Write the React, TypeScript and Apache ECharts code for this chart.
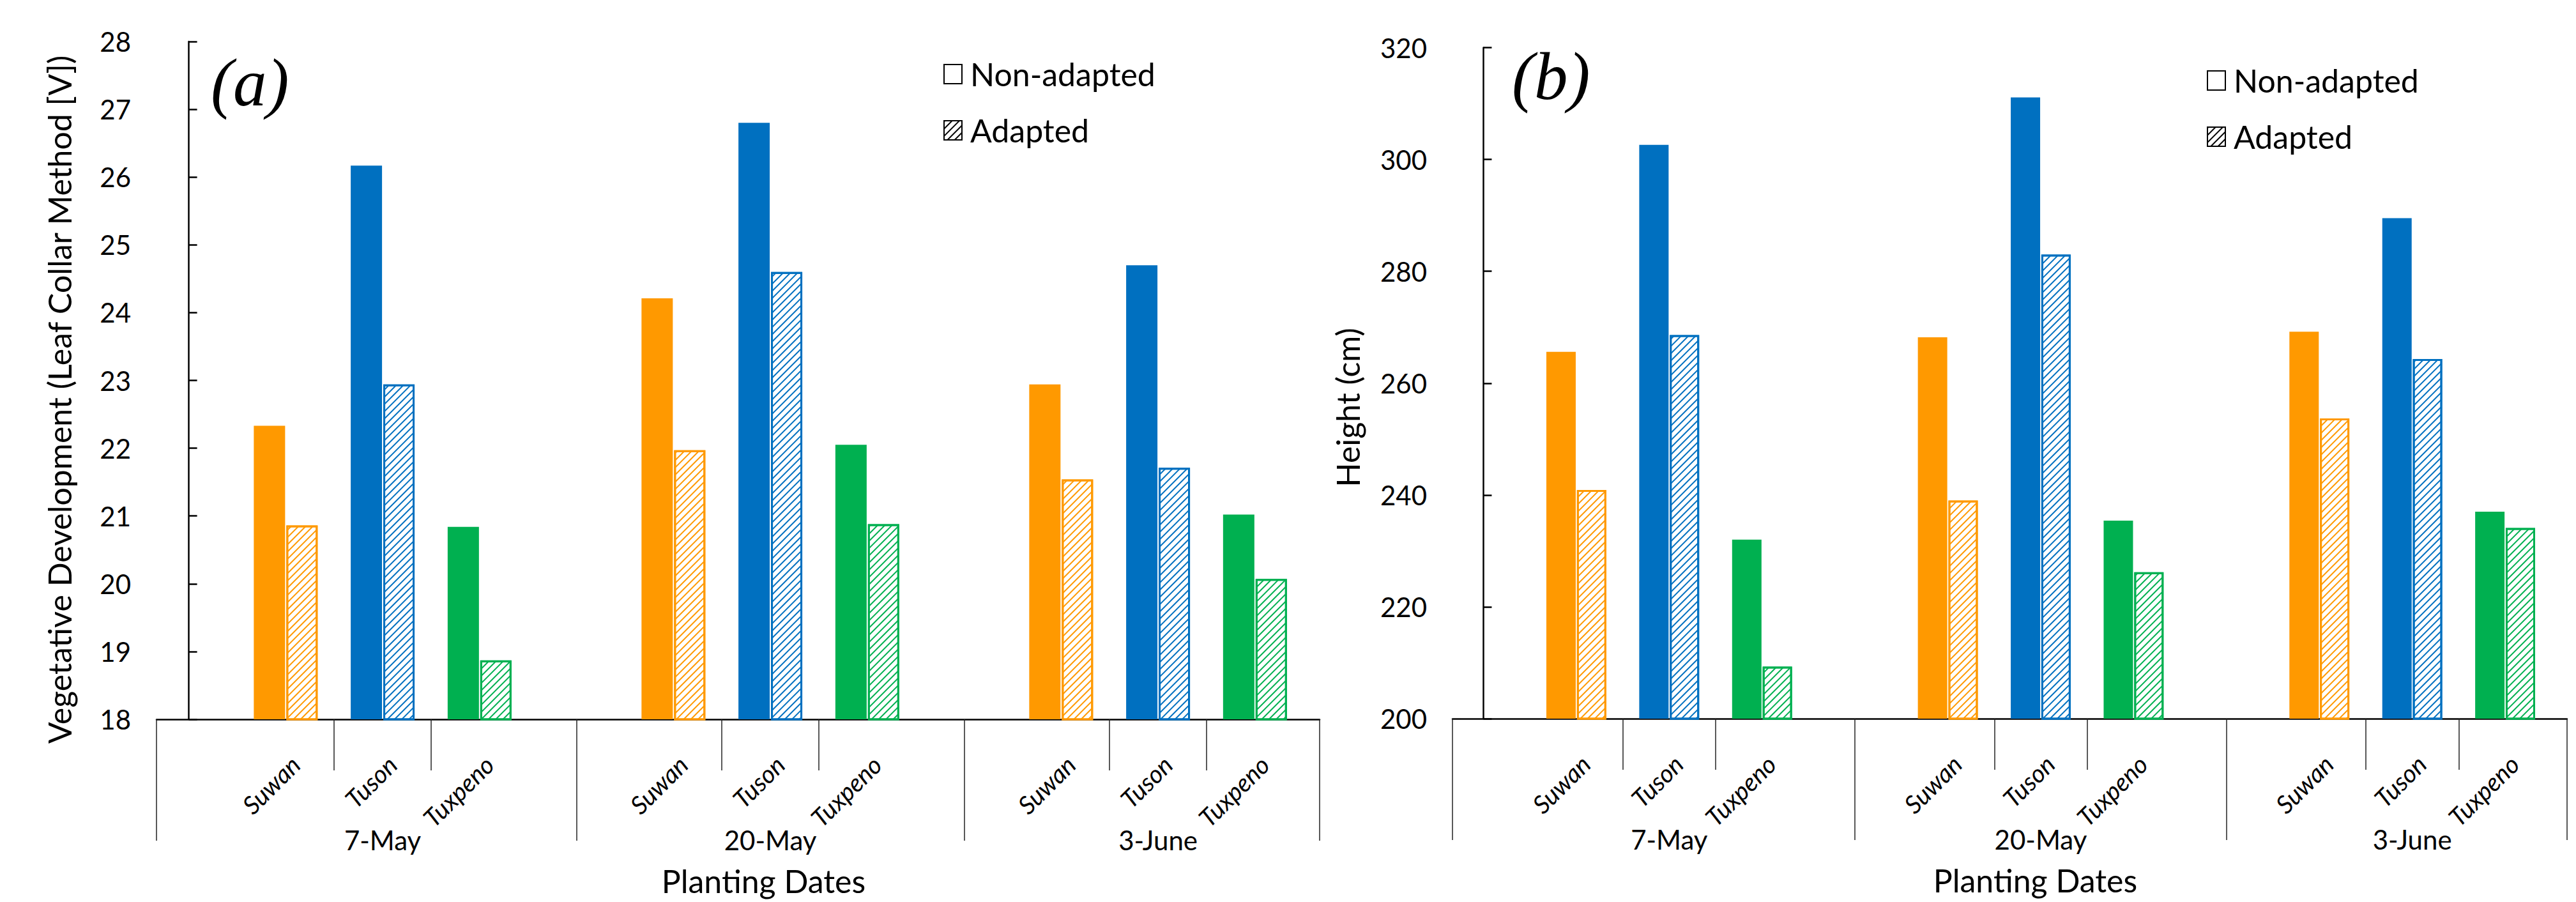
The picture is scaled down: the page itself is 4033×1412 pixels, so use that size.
import React, { useEffect, useRef } from 'react';
import * as echarts from 'echarts';

// ---- data ----
const varieties = ['Suwan', 'Tuson', 'Tuxpeno'];
const plantingDates = ['7-May', '20-May', '3-June'];
const varietyColors = ['#FF9900', '#0070C0', '#00B050'];

// order: 7-May [Suwan, Tuson, Tuxpeno], 20-May [...], 3-June [...]
const vegNonAdapted = [22.33, 26.17, 20.84, 24.21, 26.8, 22.05, 22.94, 24.7, 21.02];
const vegAdapted = [20.86, 22.94, 18.87, 21.97, 24.6, 20.88, 21.54, 21.71, 20.07];
const heightNonAdapted = [265.6, 302.6, 232.0, 268.2, 311.1, 235.4, 269.2, 289.5, 237.0];
const heightAdapted = [240.9, 268.6, 209.3, 239.0, 283.0, 226.2, 253.7, 264.3, 234.1];

const legendNames = ['Non-adapted', 'Adapted'];

// ---- layout on the x scale (one slot per variety, one blank slot between dates) ----
const X_MIN = -1 / 3;
const X_MAX = 11 + 2 / 3;
const positions: number[] = [];
plantingDates.forEach((_, g) => varieties.forEach((__, v) => positions.push(g * 4 + v + 1)));
const subSeps: number[] = [];
plantingDates.forEach((_, g) => [1.5, 2.5].forEach((o) => subSeps.push(g * 4 + o)));
const groupSeps = [X_MIN, 4, 8, X_MAX];
const groupCenters = plantingDates.map((_, g) => g * 4 + 2);
const LABEL_SHIFT = 0.1;
const LABEL_MARGIN = 64;

const FONT = 'Lato';

const hatch = (c: string) => ({
  symbol: 'rect',
  symbolSize: 1,
  dashArrayX: [1, 0],
  dashArrayY: [2, 6],
  rotation: -Math.PI / 4,
  color: c,
  backgroundColor: '#ffffff',
});

function makeXAxes(gridIndex: number) {
  const tickLine = { color: '#222', width: 1.5 };
  return [
    {
      type: 'value',
      gridIndex,
      position: 'bottom',
      min: X_MIN,
      max: X_MAX,
      splitLine: { show: false },
      axisLine: { show: true, onZero: false, lineStyle: { color: '#000', width: 2.5 } },
      axisTick: { show: true, customValues: subSeps, length: 80, lineStyle: tickLine },
      axisLabel: { show: false },
    },
    {
      type: 'value',
      gridIndex,
      position: 'bottom',
      min: X_MIN,
      max: X_MAX,
      splitLine: { show: false },
      axisLine: { show: false },
      axisTick: { show: true, customValues: groupSeps, length: 190, lineStyle: tickLine },
      axisLabel: {
        show: true,
        customValues: groupCenters,
        formatter: (val: number) => {
          const i = groupCenters.findIndex((c) => Math.abs(c - val) < 1e-6);
          return i >= 0 ? plantingDates[i] : '';
        },
        margin: 168,
        fontFamily: FONT,
        fontSize: 42,
        color: '#000',
      },
      name: 'Planting Dates',
      nameLocation: 'middle',
      nameGap: 228,
      nameTextStyle: { fontFamily: FONT, fontSize: 50, color: '#000', padding: [0, 0, 0, 80] },
    },
  ];
}

function makeYAxis(gridIndex: number, min: number, max: number, interval: number, name: string, shift: number) {
  return {
    type: 'value',
    gridIndex,
    min,
    max,
    interval,
    splitLine: { show: false },
    axisLine: { show: true, lineStyle: { color: '#000', width: 2.5 } },
    axisTick: { show: true, inside: true, length: 13, lineStyle: { color: '#000', width: 2.5 } },
    axisLabel: { fontFamily: FONT, fontSize: 42, color: '#000', margin: 40 },
    name,
    nameLocation: 'middle',
    nameRotate: 90,
    nameGap: gridIndex === 0 ? 127 : 139,
    nameTextStyle: { fontFamily: FONT, fontSize: 50, color: '#000', padding: [0, shift, 0, 0] },
  };
}

function makeSeries(gridIndex: number, nonAdapted: number[], adapted: number[], barWidth: number) {
  const xAxisIndex = gridIndex * 2;
  return [
    {
      type: 'bar',
      name: legendNames[0],
      xAxisIndex,
      yAxisIndex: gridIndex,
      barWidth,
      barGap: '4%',
      data: nonAdapted.map((v, i) => ({
        value: [positions[i], v],
        itemStyle: { color: varietyColors[i % 3] },
      })),
    },
    {
      type: 'bar',
      name: legendNames[1],
      xAxisIndex,
      yAxisIndex: gridIndex,
      barWidth,
      barGap: '4%',
      data: adapted.map((v, i) => ({
        value: [positions[i], v],
        itemStyle: {
          color: '#ffffff',
          borderColor: varietyColors[i % 3],
          borderWidth: 3,
          decal: hatch(varietyColors[i % 3]),
        },
      })),
    },
  ];
}

function makeLegend(left: number, top: number) {
  return {
    left,
    top,
    orient: 'vertical',
    itemWidth: 28,
    itemHeight: 30,
    itemGap: 38,
    selectedMode: false,
    textStyle: { fontFamily: FONT, fontSize: 50, color: '#000', padding: [0, 0, 0, 8] },
    data: [
      { name: legendNames[0], icon: 'rect', itemStyle: { color: '#ffffff', borderColor: '#000', borderWidth: 2 } },
      {
        name: legendNames[1],
        icon: 'rect',
        itemStyle: { color: '#ffffff', borderColor: '#000', borderWidth: 2, decal: hatch('#000') },
      },
    ],
  };
}

export default function App() {
  const ref = useRef<HTMLDivElement>(null);
  useEffect(() => {
    if (!ref.current) return;
    const chart = echarts.init(ref.current, null, { renderer: 'svg' });
    const yMins = [18, 200];
    const option = {
      animation: false,
      backgroundColor: '#ffffff',
      title: [
        {
          text: '(a)',
          left: 325,
          top: 72,
          textStyle: { fontFamily: 'Liberation Serif', fontStyle: 'italic', fontWeight: 'normal', fontSize: 105, color: '#000' },
        },
        {
          text: '(b)',
          left: 2362,
          top: 62,
          textStyle: { fontFamily: 'Liberation Serif', fontStyle: 'italic', fontWeight: 'normal', fontSize: 105, color: '#000' },
        },
      ],
      legend: [makeLegend(1472, 86), makeLegend(3450, 96)],
      grid: [
        { left: 245, top: 65, width: 1821, height: 1061, containLabel: false },
        { left: 2274, top: 74.5, width: 1745, height: 1050.5, containLabel: false },
      ],
      xAxis: [...makeXAxes(0), ...makeXAxes(1)],
      yAxis: [
        makeYAxis(0, 18, 28, 1, 'Vegetative Development (Leaf Collar Method [V])', 60),
        makeYAxis(1, 200, 320, 20, 'Height (cm)', 76),
      ],
      series: [
        ...makeSeries(0, vegNonAdapted, vegAdapted, 49),
        ...makeSeries(1, heightNonAdapted, heightAdapted, 46),
      ],
    };
    chart.setOption(option as any);

    // rotated variety labels, placed through the chart's own scales
    const graphics: any[] = [];
    [0, 1].forEach((k) => {
      positions.forEach((p, i) => {
        const pt = chart.convertToPixel({ xAxisIndex: k * 2, yAxisIndex: k } as any, [p + LABEL_SHIFT, yMins[k]]) as number[];
        if (!pt) return;
        graphics.push({
          type: 'text',
          x: pt[0],
          y: pt[1] + LABEL_MARGIN,
          rotation: Math.PI / 4,
          style: {
            text: varieties[i % 3],
            fontFamily: FONT,
            fontStyle: 'italic',
            fontSize: 39,
            fill: '#000',
            align: 'right',
            verticalAlign: 'middle',
          },
        });
      });
    });
    chart.setOption({ graphic: graphics } as any);
    return () => chart.dispose();
  }, []);
  return (
    <div
      ref={ref}
      style={{ position: 'fixed', left: 0, top: 0, width: '4033px', height: '1412px', background: '#fff' }}
    />
  );
}
